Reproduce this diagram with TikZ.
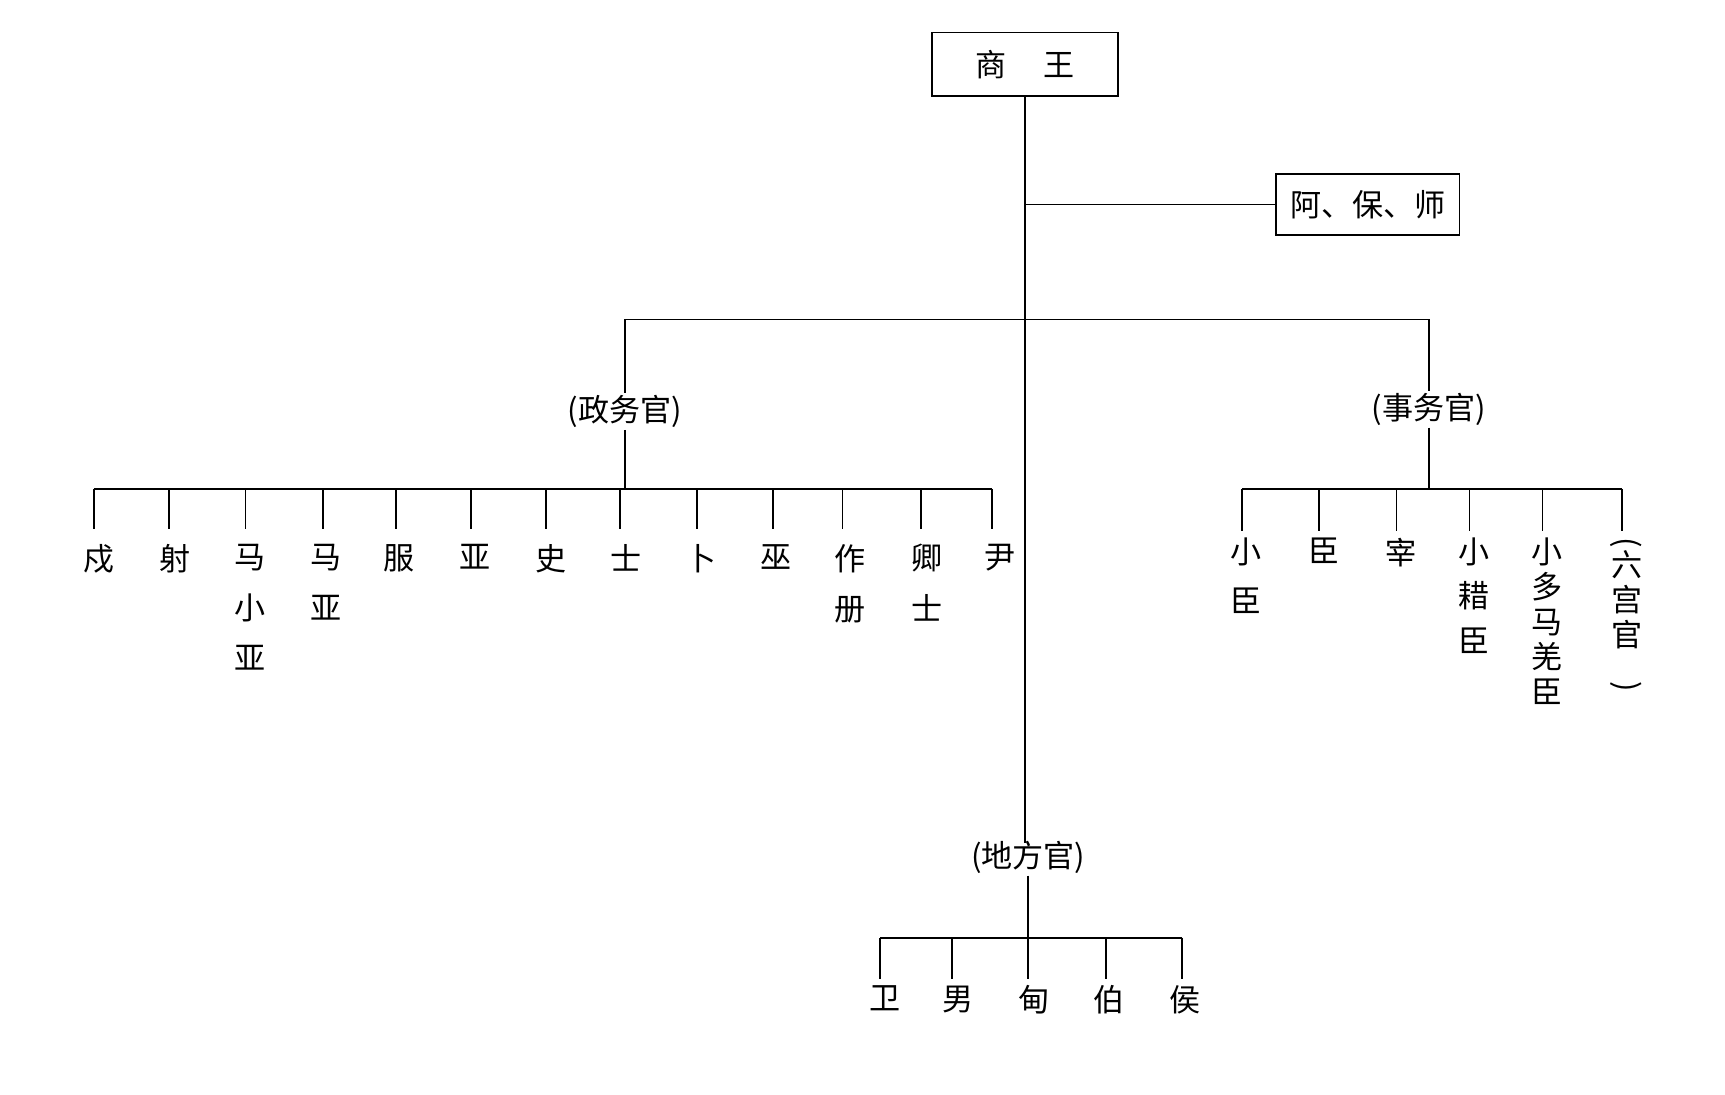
\documentclass[tikz,border=0pt]{standalone}
\usepackage{graphicx}
\usepackage{fontspec}
\setmainfont{Noto Sans CJK SC}
\begin{document}
\begin{tikzpicture}[x=0.02cm,y=-0.02cm,
  ln/.style={line width=0.9pt},
  lab/.style={font=\fontsize{16}{18}\selectfont, inner sep=1pt},
  box/.style={draw, line width=0.9pt, minimum height=1.14cm, font=\fontsize{16}{18}\selectfont},
  ch/.style={font=\fontsize{16}{18}\selectfont, inner sep=0pt, anchor=north}]
\useasboundingbox (0,0) rectangle (1560,990);
% top
\node[box, minimum width=3.36cm] (king) at (927,58) {商\hspace{1.2em}王};
\node[box, minimum width=3.32cm, minimum height=1.1cm] (abs) at (1237,185) {阿、保、师};
\coordinate (mb) at (927,185);
\coordinate (mbot) at (927,762);
\draw[ln] (king.south) -- (mbot);
\draw[ln] (mb) -- (abs.west);
% branches
\coordinate (hl) at (565,289); \coordinate (hr) at (1292,289);
\node[lab] (zw) at (565,372) {(政务官)};
\node[lab] (sw) at (1292,370) {(事务官)};
\node[lab] (df) at (930,775) {(地方官)};
\draw[ln] (zw.north) -- (hl) -- (hr) -- (sw.north);
% 政务官 row
\coordinate (zl) at (85,442); \coordinate (zr) at (897,442);
\draw[ln] (zw.south) -- (565,442);
\draw[ln] (zl) -- (zr);
\foreach \x/\lx/\t [count=\i] in {85/90/戍, 153/158/射, 222/226/{马\\[0.5em]小\\[0.5em]亚}, 292/295/{马\\[0.5em]亚}, 358/361/服, 426/430/亚, 494/498/史, 561/566/士, 630/634/卜, 699/702/巫, 762/769/{作\\[0.5em]册}, 833/838/{卿\\[0.5em]士}, 897/904/尹}{
  \node[ch, align=center] (z\i) at (\lx,492) {\t};
  \draw[ln] (\x,442) -- (\x,478);
}
% 事务官 row
\draw[ln] (sw.south) -- (1292,442);
\draw[ln] (1123,442) -- (1467,442);
\foreach \x/\t [count=\i] in {1123/{小\\[0.45em]臣}, 1193/臣, 1263/宰, 1329/{小\\[0.3em]耤\\[0.3em]臣}, 1395/{小\\[0em]多\\[0em]马\\[0em]羌\\[0em]臣}, 1467/{\rotatebox{-90}{(}\\[0em]六\\[0em]宫\\[0em]官\\[0em]\rotatebox{-90}{)}}}{
  \node[ch, align=center] (s\i) at (\x+4,486) {\t};
  \draw[ln] (\x,442) -- (\x,480);
}
% 地方官 row
\draw[ln] (df.south) -- (930,848);
\draw[ln] (796,848) -- (1069,848);
\foreach \x/\lx/\t [count=\i] in {796/800/卫, 861/866/男, 930/935/甸, 1000/1003/伯, 1069/1072/侯}{
  \node[ch] (d\i) at (\lx,891) {\t};
  \draw[ln] (\x,848) -- (\x,885);
}
\end{tikzpicture}
\end{document}
